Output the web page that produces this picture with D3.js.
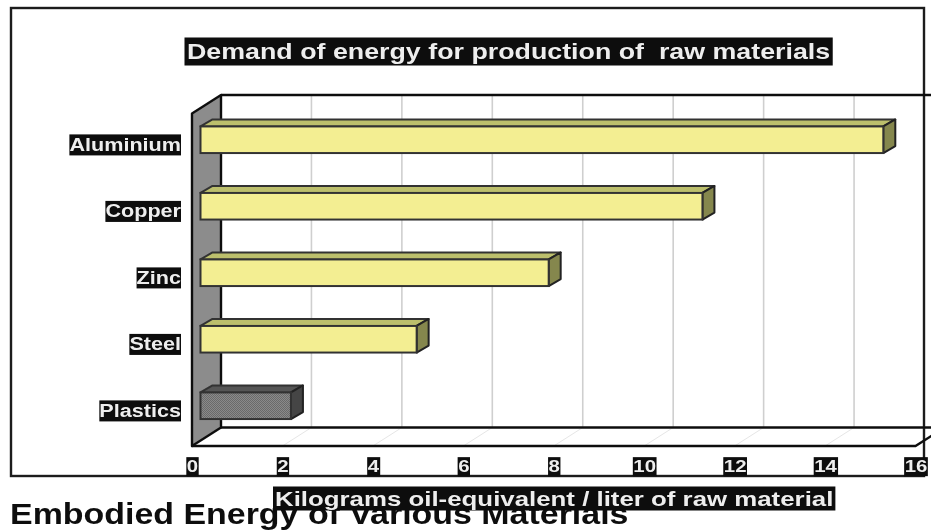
<!DOCTYPE html>
<html><head><meta charset="utf-8">
<script src="https://cdn.jsdelivr.net/npm/d3@7/dist/d3.min.js"></script>
<style>html,body{margin:0;padding:0;background:#fff;overflow:hidden}svg{display:block}text{font-family:"Liberation Sans",Arial,sans-serif}</style>
</head><body><svg id="c" width="931" height="530"></svg>
<script>
const categories = ["Aluminium","Copper","Zinc","Steel","Plastics"];
const values = [15.1,11.1,7.7,4.78,2.0];
const tickValues = [0,2,4,6,8,10,12,14,16];
const chartTitle = "Demand of energy for production of  raw materials";
const xTitle = "Kilograms oil-equivalent / liter of raw material";
const footer = "Embodied Energy of Various Materials";

const root = d3.select("#c");
const defs = root.append("defs");
const blur = defs.append("filter").attr("id","soft").attr("x",0).attr("y",0).attr("width","100%").attr("height","100%").attr("filterUnits","userSpaceOnUse");
blur.append("feGaussianBlur").attr("stdDeviation",0.45);
const p = defs.append("pattern").attr("id","dots").attr("width",2).attr("height",2).attr("patternUnits","userSpaceOnUse");
p.append("rect").attr("width",2).attr("height",2).attr("fill","#8a8a8a");
p.append("rect").attr("width",1).attr("height",1).attr("fill","#6a6a6a");
p.append("rect").attr("x",1).attr("y",1).attr("width",1).attr("height",1).attr("fill","#6a6a6a");
const svg = root.append("g").attr("filter","url(#soft)");
svg.append("rect").attr("width",931).attr("height",530).attr("fill","#fff");

const x = d3.scaleLinear().domain([0,16]).range([192,915.5]);
const y = d3.scaleBand().domain(categories).range([106.5,439]).paddingInner(0.6).paddingOuter(0.3);
const depthX = 29, depthY = -18.5;
const floorY = 446, topY = 113.5;
const ink = "#1c1c1c";

svg.append("rect").attr("x",11).attr("y",8).attr("width",913).attr("height",468).attr("fill","#fff").attr("stroke",ink).attr("stroke-width",2.4);

const grid = svg.append("g");
tickValues.slice(1,-1).forEach(t=>{
  grid.append("line").attr("x1",x(t)+depthX).attr("x2",x(t)+depthX).attr("y1",topY+depthY).attr("y2",floorY+depthY).attr("stroke","#cfcfcf").attr("stroke-width",1.6);
  grid.append("line").attr("x1",x(t)).attr("x2",x(t)+depthX).attr("y1",floorY).attr("y2",floorY+depthY).attr("stroke","#e6e6e6").attr("stroke-width",1);
});

svg.append("line").attr("x1",x(0)+depthX).attr("x2",931).attr("y1",topY+depthY).attr("y2",topY+depthY).attr("stroke","#111").attr("stroke-width",2.4);
svg.append("line").attr("x1",x(0)+depthX).attr("x2",931).attr("y1",floorY+depthY).attr("y2",floorY+depthY).attr("stroke","#111").attr("stroke-width",2.4);
svg.append("path").attr("d",d3.line()([[x(0),floorY],[x(16),floorY],[x(16)+depthX,floorY+depthY]])).attr("fill","none").attr("stroke","#111").attr("stroke-width",2.4);
svg.append("path").attr("d",d3.line()([[x(0),topY],[x(0)+depthX,topY+depthY],[x(0)+depthX,floorY+depthY],[x(0),floorY]])+"Z").attr("fill","#8c8c8c").attr("stroke","#111").attr("stroke-width",2.4).attr("stroke-linejoin","round");

const bx = 8.5, dx = 12, dy = -7;
const bars = svg.append("g").selectAll("g").data(categories).join("g");
const isGray = d => d==="Plastics";
const val = d => values[categories.indexOf(d)];
const end = d => x(val(d))+bx;
bars.append("path")
 .attr("d",d=>d3.line()([[x(0)+bx,y(d)],[x(0)+bx+dx,y(d)+dy],[end(d)+dx,y(d)+dy],[end(d),y(d)]])+"Z")
 .attr("fill",d=>isGray(d)?"#555":"#bcbf6c").attr("stroke","#333").attr("stroke-width",2).attr("stroke-linejoin","round");
bars.append("path")
 .attr("d",d=>d3.line()([[end(d),y(d)],[end(d)+dx,y(d)+dy],[end(d)+dx,y(d)+y.bandwidth()+dy],[end(d),y(d)+y.bandwidth()]])+"Z")
 .attr("fill",d=>isGray(d)?"#444":"#85874e").attr("stroke","#222").attr("stroke-width",2).attr("stroke-linejoin","round");
bars.append("rect").attr("x",x(0)+bx).attr("y",d=>y(d)).attr("width",d=>end(d)-x(0)-bx).attr("height",y.bandwidth())
 .attr("fill",d=>isGray(d)?"url(#dots)":"#f3ee92").attr("stroke","#333").attr("stroke-width",2);

function stretch(sel,ratio){
  sel.each(function(){
    const w=this.getComputedTextLength();
    d3.select(this).attr("textLength",w*ratio).attr("lengthAdjust","spacingAndGlyphs");
  });
}
function boxed(sel,padX,padY){
  sel.each(function(){
    const b=this.getBBox();
    d3.select(this.parentNode).insert("rect",()=>this)
      .attr("x",b.x-padX).attr("y",b.y-padY).attr("width",b.width+2*padX).attr("height",b.height+2*padY).attr("fill","#0a0a0a");
  });
}

const yAxis = svg.append("g").attr("transform","translate(182,0)")
  .call(d3.axisLeft(y).tickSize(0).tickPadding(1));
yAxis.select(".domain").remove();
yAxis.selectAll("text").attr("font-size",18).attr("font-weight","bold").attr("fill","#eee")
  .attr("font-family","Liberation Sans").attr("dy","0.62em").attr("dx",0);
stretch(yAxis.selectAll("text"),1.2);
boxed(yAxis.selectAll("text"),0,0.5);

const xAxis = svg.append("g").attr("transform","translate(0,456)")
  .call(d3.axisBottom(x).tickValues(tickValues).tickSize(0).tickPadding(0).tickFormat(d3.format("d")));
xAxis.select(".domain").remove();
xAxis.selectAll("text").attr("font-size",17).attr("font-weight","bold").attr("fill","#eee")
  .attr("font-family","Liberation Sans").attr("y",0).attr("dy","0.95em");
stretch(xAxis.selectAll("text"),1.2);
boxed(xAxis.selectAll("text"),0.5,0);

const footerText = svg.append("text").attr("x",10).attr("y",524).attr("font-size",29).attr("font-weight","bold").attr("fill","#111").text(footer);
stretch(footerText,1.17);

const tt = svg.append("g");
tt.append("text").attr("x",187).attr("y",59).attr("font-size",22).attr("font-weight","bold").attr("fill","#eee")
  .style("white-space","pre").text(chartTitle);
stretch(tt.selectAll("text"),1.218);
boxed(tt.selectAll("text"),2.5,1.5);
const xt = svg.append("g");
xt.append("text").attr("x",275).attr("y",506).attr("font-size",20.5).attr("font-weight","bold").attr("fill","#eee").text(xTitle);
stretch(xt.selectAll("text"),1.26);
boxed(xt.selectAll("text"),2,0.5);
</script></body></html>
